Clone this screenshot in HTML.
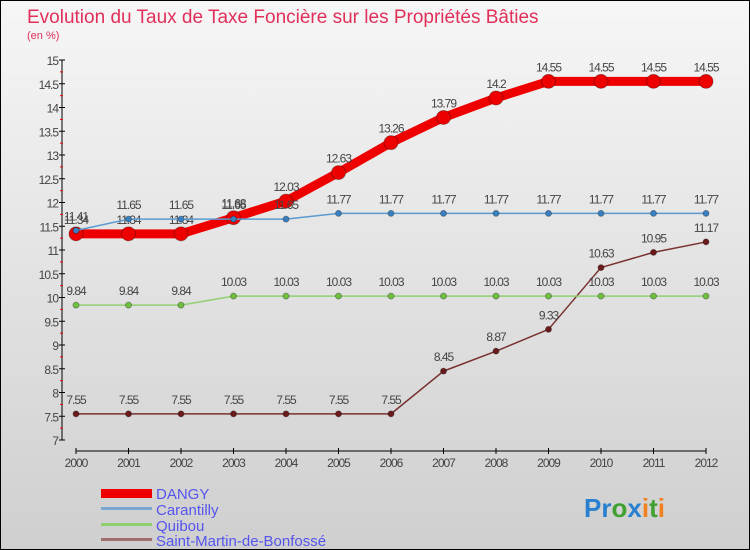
<!DOCTYPE html>
<html><head><meta charset="utf-8"><style>
body{margin:0}
#c{position:relative;width:748px;height:548px;border:1px solid #000;background:linear-gradient(#f6f6f6,#cfcfcf);overflow:hidden;font-family:"Liberation Sans",sans-serif}
</style></head><body>
<div id="c">
<svg id="s" width="748" height="548" style="position:absolute;left:0;top:0">
<text x="26" y="22" font-size="19" fill="#e0305a">Evolution du Taux de Taxe Foncière sur les Propriétés Bâties</text>
<text x="26" y="38" font-size="11" fill="#e0305a">(en %)</text>
<g id="axes"></g><g id="series"></g>
<g>
<rect x="100" y="488" width="51" height="9" fill="#e00"/>
<text x="155" y="498" font-size="15" fill="#5555ee">DANGY</text>
<rect x="100" y="506" width="51" height="3" fill="#7aa8d0"/>
<text x="155" y="514" font-size="15" fill="#5555ee">Carantilly</text>
<rect x="100" y="522" width="51" height="3" fill="#90d070"/>
<text x="155" y="530" font-size="15" fill="#5555ee">Quibou</text>
<rect x="100" y="537" width="51" height="3" fill="#a07070"/>
<text x="155" y="545" font-size="15" fill="#5555ee">Saint-Martin-de-Bonfossé</text>
</g>
<text x="583" y="516" font-size="26" font-weight="bold"><tspan fill="#2a80d0">Pr</tspan><tspan fill="#40a030">o</tspan><tspan fill="#2a80d0">x</tspan><tspan fill="#f08020">i</tspan><tspan fill="#40a030">t</tspan><tspan fill="#f08020">i</tspan></text>
</svg>
</div>
<script>
const years=[2000,2001,2002,2003,2004,2005,2006,2007,2008,2009,2010,2011,2012];
const dangy=[11.34,11.34,11.34,11.68,12.03,12.63,13.26,13.79,14.2,14.55,14.55,14.55,14.55];
const carantilly=[11.41,11.65,11.65,11.65,11.65,11.77,11.77,11.77,11.77,11.77,11.77,11.77,11.77];
const quibou=[9.84,9.84,9.84,10.03,10.03,10.03,10.03,10.03,10.03,10.03,10.03,10.03,10.03];
const stmartin=[7.55,7.55,7.55,7.55,7.55,7.55,7.55,8.45,8.87,9.33,10.63,10.95,11.17];
const yTicks=[7,7.5,8,8.5,9,9.5,10,10.5,11,11.5,12,12.5,13,13.5,14,14.5,15];
const NS="http://www.w3.org/2000/svg";
function X(i){return 75+i*52.5;}
function Y(v){return 59+(15-v)*47.5;}
function mk(t,a,p){const e=document.createElementNS(NS,t);for(const k in a)e.setAttribute(k,a[k]);p.appendChild(e);return e;}
const ax=document.getElementById('axes');
const yl=mk('line',{x1:61,y1:Y(15),x2:61,y2:Y(7),stroke:'#000','stroke-width':1},ax);


yTicks.forEach(v=>{
 mk('line',{x1:58,y1:Y(v),x2:64,y2:Y(v),stroke:'#000'},ax);
 mk('line',{x1:59,y1:Y(v)+11.9,x2:62,y2:Y(v)+11.9,stroke:v>7?'#e00':'none'},ax);
 const t=mk('text',{x:57,y:Y(v)+5,'text-anchor':'end','font-size':12,fill:'#444','letter-spacing':'-1'},ax);
 t.textContent=String(v);
 
 
});
const xl=mk('line',{x1:X(0),y1:450,x2:X(12),y2:450,stroke:'#000'},ax);


years.forEach((y,i)=>{
 mk('line',{x1:X(i),y1:447,x2:X(i),y2:453,stroke:'#000'},ax);
 const t=mk('text',{x:X(i),y:466,'text-anchor':'middle','font-size':12,fill:'#444','letter-spacing':'-1'},ax);
 t.textContent=String(y);
 
 
});
const sg=document.getElementById('series');
function draw(vals,name,color,w,r,dot){
 const g=mk('g',{},sg);
 
 
 mk('polyline',{points:vals.map((v,i)=>X(i)+','+Y(v)).join(' '),fill:'none',stroke:color,'stroke-width':w,'stroke-linejoin':'round'},g);
 vals.forEach((v,i)=>{
  const c=mk('circle',{cx:X(i),cy:Y(v),r:r,fill:dot,stroke:'rgba(0,0,0,0.3)'},g);
  
  
  const t=mk('text',{x:X(i),y:Y(v)-10,'text-anchor':'middle','font-size':12,fill:'#444','letter-spacing':'-1'},g);
  t.textContent=String(v);
  
  
 });
}
draw(stmartin,'saint-martin','#7a3030',1.5,3,'#6a1a1a');
draw(quibou,'quibou','#90d070',1.5,3,'#70c040');
draw(dangy,'dangy','#e00',9,7,'#e00');
draw(carantilly,'carantilly','#5a9ad0',1.5,3,'#3a80c0');
</script>
</body></html>
